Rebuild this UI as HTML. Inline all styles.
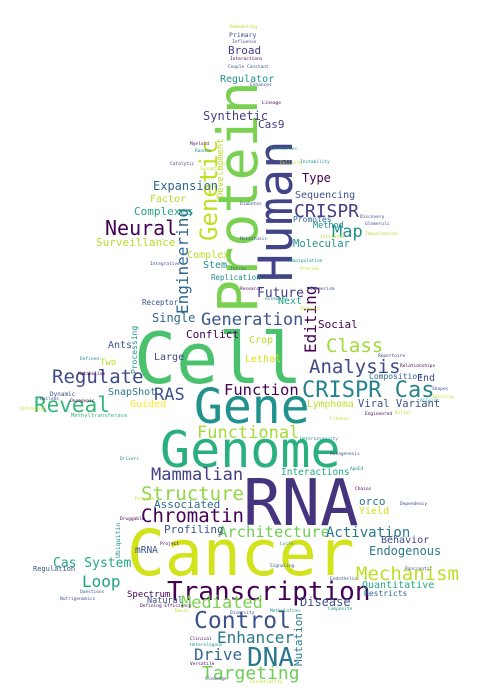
<!DOCTYPE html>
<html><head><meta charset="utf-8">
<style>
html,body{margin:0;padding:0;background:#fff;}
svg{display:block;}
text{font-family:"DejaVu Sans Mono","Liberation Mono",monospace;}
</style></head>
<body>
<svg width="478" height="698" viewBox="0 0 478 698" xmlns="http://www.w3.org/2000/svg">
<rect width="478" height="698" fill="#ffffff"/>
<text x="127" y="575" font-size="63" fill="#d2e21b">Cancer</text>
<text x="243" y="525" font-size="64" fill="#46337e">RNA</text>
<text x="134" y="383" font-size="70" fill="#4ac16d">Cell</text>
<text x="194" y="423" font-size="48" fill="#21918c">Gene</text>
<text x="160" y="467" font-size="50" fill="#2ab07f">Genome</text>
<text transform="translate(257,313) rotate(-90)" font-size="55" fill="#7ad151">Protein</text>
<text transform="translate(292,282) rotate(-90)" font-size="47" fill="#414487">Human</text>
<text transform="translate(217,241) rotate(-90)" font-size="24" fill="#c2df23">Genetic</text>
<text transform="translate(188,314) rotate(-90)" font-size="16" fill="#31688e">Engineering</text>
<text transform="translate(316,353) rotate(-90)" font-size="16" fill="#440154">Editing</text>
<text transform="translate(223,198) rotate(-90)" font-size="9" fill="#b5de2b">Development</text>
<text transform="translate(302,666) rotate(-90)" font-size="11" fill="#2a788e">Mutation</text>
<text transform="translate(137,374) rotate(-90)" font-size="8" fill="#21918c">Processing</text>
<text transform="translate(120,558) rotate(-90)" font-size="6.5" fill="#21918c">Ubiquitin</text>

<text x="167" y="600" font-size="26" fill="#440154">Transcription</text>
<text x="194" y="628" font-size="23" fill="#3b528b">Control</text>
<text x="217" y="643" font-size="16" fill="#2a788e">Enhancer</text>
<text x="247" y="666" font-size="26" fill="#2a788e">DNA</text>
<text x="194" y="660" font-size="16" fill="#31688e">Drive</text>
<text x="202" y="679" font-size="18" fill="#6ece58">Targeting</text>
<text x="181" y="608" font-size="17" fill="#7ad151">Mediated</text>
<text x="300" y="606" font-size="12" fill="#3b528b">Disease</text>
<text x="356" y="580" font-size="19" fill="#bddf26">Mechanism</text>
<text x="362" y="588" font-size="10" fill="#22a884">Quantitative</text>
<text x="364" y="596" font-size="8" fill="#31688e">Restricts</text>
<text x="82" y="587" font-size="16" fill="#20a386">Loop</text>
<text x="53" y="567" font-size="13" fill="#22a884">Cas System</text>
<text x="33" y="571" font-size="7" fill="#3b528b">Regulation</text>
<text x="127" y="597" font-size="9" fill="#440154">Spectrum</text>
<text x="147" y="603" font-size="8.5" fill="#3b528b">Natural</text>
<text x="135" y="553" font-size="9.5" fill="#3b528b">mRNA</text>

<text x="197" y="438" font-size="17" fill="#a5db36">Functional</text>
<text x="224" y="395" font-size="15.5" fill="#440154">Function</text>
<text x="302" y="397" font-size="22" fill="#26828e">CRISPR Cas</text>
<text x="309" y="373" font-size="19" fill="#3e4989">Analysis</text>
<text x="326" y="352" font-size="19" fill="#a0da39">Class</text>
<text x="369" y="379" font-size="8" fill="#31688e">Composition</text>
<text x="417" y="381" font-size="10" fill="#3e4989">End</text>
<text x="307" y="407" font-size="9.7" fill="#bddf26">Lymphoma</text>
<text x="358" y="407" font-size="10.5" fill="#3b528b">Viral Variant</text>
<text x="151" y="480" font-size="17" fill="#433e85">Mammalian</text>
<text x="141" y="500" font-size="19" fill="#8fd744">Structure</text>
<text x="141" y="522" font-size="19" fill="#440154">Chromatin</text>
<text x="218" y="537" font-size="15.5" fill="#6ece58">Architecture</text>
<text x="326" y="537" font-size="14" fill="#2a788e">Activation</text>
<text x="381" y="543" font-size="10" fill="#3e4989">Behavior</text>
<text x="369" y="555" font-size="12" fill="#2a788e">Endogenous</text>
<text x="281" y="475" font-size="9.5" fill="#22a884">Interactions</text>
<text x="154" y="508" font-size="11" fill="#31688e">Associated</text>
<text x="164" y="533" font-size="11" fill="#3b528b">Profiling</text>
<text x="359" y="505" font-size="11" fill="#2a788e">orco</text>
<text x="359" y="514" font-size="10" fill="#d2e21b">Yield</text>
<text x="154" y="400" font-size="17" fill="#3b528b">RAS</text>
<text x="130" y="407" font-size="10" fill="#fde725">Guided</text>
<text x="154" y="360" font-size="10" fill="#3e4989">Large</text>
<text x="186" y="338" font-size="11" fill="#440154">Conflict</text>
<text x="249" y="343" font-size="10" fill="#b5de2b">Crop</text>
<text x="245" y="362" font-size="10" fill="#d8e219">Lethal</text>
<text x="318" y="328" font-size="11" fill="#440154">Social</text>

<text x="201" y="325" font-size="17" fill="#3b528b">Generation</text>
<text x="152" y="322" font-size="12" fill="#31688e">Single</text>
<text x="257" y="297" font-size="13" fill="#433e85">Future</text>
<text x="278" y="304" font-size="10" fill="#22a884">Next</text>
<text x="211" y="280" font-size="7.5" fill="#21918c">Replication</text>
<text x="203" y="268" font-size="10" fill="#21918c">Stem</text>
<text x="187" y="258" font-size="10" fill="#b5de2b">Complex</text>
<text x="294" y="217" font-size="18" fill="#433e85">CRISPR</text>
<text x="295" y="198" font-size="10" fill="#3b528b">Sequencing</text>
<text x="302" y="182" font-size="12" fill="#440154">Type</text>
<text x="332" y="237" font-size="17" fill="#21918c">Map</text>
<text x="293" y="247" font-size="10.5" fill="#21918c">Molecular</text>
<text x="313" y="228" font-size="8.5" fill="#21918c">Method</text>
<text x="293" y="222" font-size="8" fill="#31688e">Promotes</text>
<text x="203" y="120" font-size="12" fill="#433e85">Synthetic</text>
<text x="258" y="128" font-size="11" fill="#433e85">Cas9</text>
<text x="220" y="82" font-size="10" fill="#21918c">Regulator</text>
<text x="228" y="54" font-size="11" fill="#433e85">Broad</text>
<text x="229" y="37" font-size="6.5" fill="#3b528b">Primary</text>
<text x="153" y="190" font-size="12" fill="#31688e">Expansion</text>
<text x="150" y="202" font-size="10" fill="#b5de2b">Factor</text>
<text x="134" y="215" font-size="11" fill="#22a884">Complexes</text>
<text x="105" y="235" font-size="20" fill="#440154">Neural</text>
<text x="96" y="246" font-size="11" fill="#b5de2b">Surveillance</text>
<text x="142" y="305" font-size="7.5" fill="#3b528b">Receptor</text>

<text x="52" y="383" font-size="19" fill="#3e4989">Regulate</text>
<text x="34" y="412" font-size="21" fill="#35b779">Reveal</text>
<text x="108" y="395" font-size="10" fill="#2a788e">SnapShot</text>
<text x="108" y="348" font-size="10" fill="#3b528b">Ants</text>
<text x="100" y="365" font-size="9" fill="#b5de2b">Two</text>
<text x="71" y="417" font-size="5.5" fill="#35b779">Methyltransferase</text>
<text x="50" y="396" font-size="6" fill="#3b528b">Dynamic</text>

<g font-size="4.5">
<text x="230" y="28" fill="#b5de2b">Remodeling</text>
<text x="232" y="43" fill="#3b528b">Influence</text>
<text x="230" y="60" fill="#440154">Interactions</text>
<text x="228" y="68" fill="#3b528b">Couple Constant</text>
<text x="250" y="86" fill="#3e4989">Enhances</text>
<text x="262" y="104" fill="#440154">Lineage</text>
<text x="270" y="150" fill="#22a884">Identifies</text>
<text x="280" y="164" fill="#bddf26">Delivery</text>
<text x="300" y="163" fill="#21918c">Instability</text>
<text x="320" y="238" fill="#b5de2b">Initiated</text>
<text x="360" y="218" fill="#3e4989">Discovery</text>
<text x="365" y="225" fill="#3b528b">Glomeruli</text>
<text x="365" y="235" fill="#b5de2b">Immunization</text>
<text x="378" y="357" fill="#3e4989">Repertoire</text>
<text x="400" y="367" fill="#440154">Relationships</text>
<text x="432" y="390" fill="#3b528b">Shapes</text>
<text x="432" y="398" fill="#bddf26">Splicing</text>
<text x="395" y="414" fill="#bddf26">Killer</text>
<text x="365" y="415" fill="#440154">Engineered</text>
<text x="420" y="402" fill="#21918c">Allelic</text>
<text x="400" y="505" fill="#3b528b">Dependency</text>
<text x="405" y="570" fill="#3b528b">Pancreatic</text>
<text x="330" y="580" fill="#3b528b">Endothelin</text>
<text x="328" y="610" fill="#21918c">Composite</text>
<text x="270" y="612" fill="#21918c">Methylation</text>
<text x="60" y="600" fill="#3b528b">Nutrigenomics</text>
<text x="80" y="593" fill="#3b528b">Questions</text>
<text x="140" y="607" fill="#440154">Defining Efficiency</text>
<text x="175" y="612" fill="#bddf26">Basic</text>
<text x="230" y="614" fill="#3b528b">Diversity</text>
<text x="190" y="640" fill="#440154">Clinical</text>
<text x="190" y="646" fill="#21918c">Heterologous</text>
<text x="190" y="665" fill="#440154">Versatile</text>
<text x="205" y="680" fill="#3b528b">Cleavage</text>
<text x="250" y="683" fill="#bddf26">Essentiality</text>
<text x="40" y="400" fill="#3b528b">Nucleus</text>
<text x="20" y="410" fill="#bddf26">Unfolding</text>
<text x="70" y="402" fill="#440154">Oncogenic</text>
<text x="80" y="360" fill="#21918c">Defined</text>
<text x="78" y="375" fill="#440154">Metabolism</text>
<text x="120" y="460" fill="#21918c">Drivers</text>
<text x="135" y="500" fill="#bddf26">Program</text>
<text x="120" y="520" fill="#440154">Druggable</text>
<text x="160" y="545" fill="#440154">Project</text>
<text x="280" y="545" fill="#21918c">Lycle</text>
<text x="270" y="567" fill="#3b528b">Signaling</text>
<text x="150" y="265" fill="#3b528b">Integrative</text>
<text x="170" y="165" fill="#3b528b">Catalytic</text>
<text x="190" y="145" fill="#440154">Myeloid</text>
<text x="195" y="152" fill="#21918c">Random</text>
<text x="200" y="170" fill="#bddf26">Synaptic</text>
<text x="230" y="270" fill="#3b528b">Intron</text>
<text x="240" y="290" fill="#440154">Research</text>
<text x="240" y="205" fill="#3b528b">Diabetes</text>
<text x="240" y="240" fill="#3b528b">Metastasis</text>
<text x="265" y="300" fill="#21918c">Assembly</text>
<text x="300" y="270" fill="#bddf26">Precise</text>
<text x="300" y="310" fill="#bddf26">Induces</text>
<text x="290" y="262" fill="#21918c">Manipulation</text>
<text x="310" y="290" fill="#3b528b">Chimerism</text>
<text x="330" y="420" fill="#bddf26">Fitness</text>
<text x="300" y="440" fill="#21918c">Heterozygosity</text>
<text x="355" y="490" fill="#440154">Chains</text>
<text x="350" y="470" fill="#21918c">ApoE4</text>
<text x="330" y="455" fill="#3b528b">Mutagenesis</text>
</g>
</svg>
</body></html>
